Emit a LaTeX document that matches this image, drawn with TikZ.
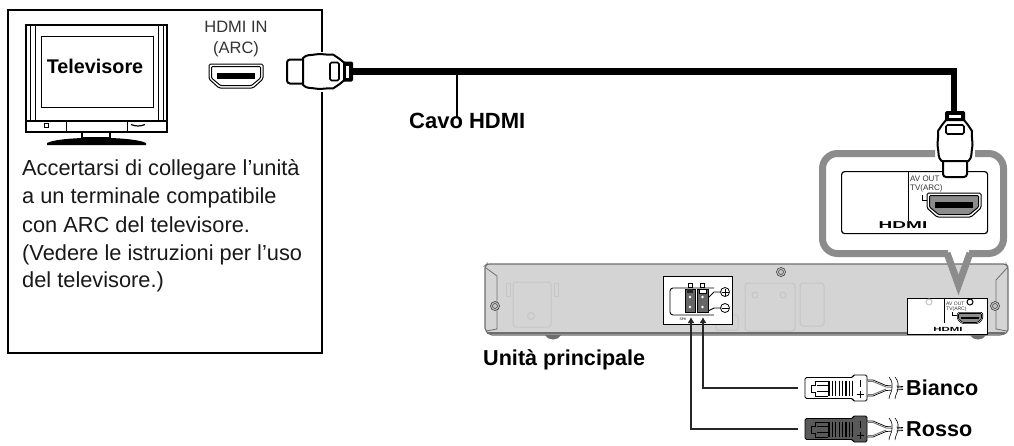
\documentclass[tikz,border=0pt]{standalone}
\usepackage{fontspec}
\setmainfont{Liberation Sans}
\usetikzlibrary{arrows.meta}
\definecolor{devgray}{HTML}{D4D4D4}
\definecolor{devedge}{HTML}{6E6E6E}
\definecolor{ghost}{HTML}{C6C6C6}
\definecolor{callout}{HTML}{8C8C8C}
\newcommand\partfill{white}
\newcommand\partline{1pt}
\tikzset{
  x=1pt,y=-1pt,
  partfill/.store in=\partfill,
  partline/.store in=\partline,
  body/.style={font=\fontsize{21.8}{26}\selectfont,inner sep=0pt,anchor=base west,text=black!90},
  title/.style={font=\fontsize{21.6}{26}\selectfont\bfseries,inner sep=0pt,anchor=base west},
  small/.style={font=\fontsize{16.5}{20}\selectfont,inner sep=0pt,anchor=base,text=black!80},
  tiny/.style={font=\fontsize{8}{9}\selectfont,inner sep=0pt,anchor=base west,text=black!80},
  wire/.style={line width=2.2pt,draw=black!85},
  ghostline/.style={draw=ghost,line width=1pt},
  hdmiplug/.pic={
    \fill[black,rounded corners=1.5pt] (50,-10) rectangle (66,10);
    \fill[white] (59,-6) rectangle (62,6);
    \draw[fill=white,line width=2pt,rounded corners=3pt] (0,-12) -- (18,-12) -- (18,12) -- (0,12) -- cycle;
    \draw[fill=white,line width=2pt,line join=round] (16,-13.5)
      .. controls (20,-17.5) and (24,-16) .. (28,-17)
      .. controls (34,-18.5) and (40,-16) .. (46,-17) -- (52,-13) -- (57,-9) -- (57,9) -- (52,13) -- (46,17)
      .. controls (40,16) and (34,18.5) .. (28,17)
      .. controls (24,16) and (20,17.5) .. (16,13.5) -- cycle;
    \draw[line width=1.7pt,rounded corners=1.5pt] (43,-9) rectangle (52,9);
  },
  hdmiport/.pic={
    \draw[fill=white,line width=\partline,rounded corners=1.5pt] (-27,-12) -- (27,-12) -- (27,3) -- (17,12) -- (-17,12) -- (-27,3) -- cycle;
    \draw[fill=\partfill,draw=black,line width=\partline,rounded corners=1pt] (-24.5,-9.5) -- (24.5,-9.5) -- (24.5,2) -- (15.5,9.5) -- (-15.5,9.5) -- (-24.5,2) -- cycle;
    \fill[black] (-19,-3) rectangle (19,3);
  },
  spkplug/.pic={
    \draw[fill=\partfill,line width=.9pt,rounded corners=1.5pt] (0,-10.5) -- (48,-10.5) -- (48,-13) -- (62,-13) -- (62,13) -- (48,13) -- (48,10.5) -- (0,10.5) -- cycle;
    \draw[line width=1pt] (23,-7) -- (10,-7) -- (10,-3) -- (6,-3) -- (6,4) -- (10,4) -- (10,8) -- (23,8);
    \draw[line width=.8pt] (12,-3) -- (23,-3) (12,3) -- (23,3);
    \foreach \i in {0,...,7}{\draw[line width=1.3pt] (24+\i*3.4,-7.5) -- (24+\i*3.4,8);}
    \draw[line width=1pt] (55,-8) -- (55,-1) (51.5,6) -- (58.5,6) (55,2.5) -- (55,9.5);
    \draw[line width=.7pt] (62,-8) -- (68,-8) -- (81,-2.5) -- (98,-1.5);
    \draw[line width=.7pt] (62,8) -- (68,8) -- (81,2.5) -- (98,1.5);
    \draw[draw=black!55,line width=.9pt] (63,-6.5) -- (68,-6.5) -- (81,-1) -- (98,0);
    \draw[draw=black!55,line width=.9pt] (63,6.5) -- (68,6.5) -- (81,1);
    \fill[white] (84,-11) -- (89,-11) -- (92,0) -- (89,11) -- (84,11) -- (87,0) -- cycle;
    \draw[line width=.6pt] (84,-11) .. controls (88,-6) and (87,-3) .. (87,0) .. controls (87,4) and (84,7) .. (84,11);
    \draw[line width=.6pt] (90,-11) .. controls (94,-6) and (93,-3) .. (93,0) .. controls (93,4) and (90,7) .. (90,11);
  },
}
\begin{document}
\begin{tikzpicture}
\useasboundingbox (0,0) rectangle (1014,445);
\fill[white] (0,0) rectangle (1014,445);

% left frame
\node[draw,line width=2.4pt,minimum width=314pt,minimum height=343pt,inner sep=0pt,anchor=north west] (frame) at (7,9) {};
\fill[white] (318,52) rectangle (323,92);

% television
\draw[line width=2pt] (26,25) rectangle (167,132);
\draw[line width=.7pt] (30,26) -- (30,121) (35,26) -- (35,121) (158,26) -- (158,121) (163,26) -- (163,121);
\node[draw,line width=.9pt,minimum width=112pt,minimum height=71pt,inner sep=0pt,anchor=north west] (screen) at (41,36) {};
\draw[line width=1.1pt] (26,121) -- (167,121);
\draw[line width=.7pt] (66,121) -- (66,131) (127,121) -- (127,131);
\draw[line width=.8pt] (44.5,123.5) rectangle (48,127);
\draw[line width=1.2pt] (131,124.5) .. controls (136,126.5) and (140,126.5) .. (145,124.5);
\draw[line width=1.2pt] (82,132) -- (82,138) (110,132) -- (110,138) (82,138) -- (110,138);
\fill[black] (47,143) .. controls (60,136) and (133,136) .. (146,143) -- (146,145) -- (47,145) -- cycle;
\node[title,font=\fontsize{19.8}{24}\selectfont\bfseries,anchor=base] (tv) at (95,73) {Televisore};

\node[small] (in1) at (236,32) {HDMI IN};
\node[small] (in2) at (236,53) {(ARC)};
\pic (tvport) at (236,76) {hdmiport};

\node[body] (t1) at (22,175) {Accertarsi di collegare l’unità};
\node[body] (t2) at (22,203) {a un terminale compatibile};
\node[body] (t3) at (22,232) {con ARC del televisore.};
\node[body] (t4) at (22,260) {(Vedere le istruzioni per l’uso};
\node[body] (t5) at (22,287) {del televisore.)};

% main unit
\path[fill=devgray,draw=devedge,line width=1.1pt,rounded corners=2pt]
 (485,266) -- (487,264) -- (1006,264) -- (1008,267) -- (1008,332) -- (1002,335) -- (490,335) -- (485,330) -- cycle;
\draw[draw=devedge,line width=.8pt] (486,268) -- (497,276) -- (497,329) -- (486,331);
\draw[draw=devedge,line width=.8pt] (1007,268) -- (996,280) -- (996,329) -- (1007,331);
\draw[draw=devedge,line width=1.4pt] (487,333) -- (1005,333);
\fill[devedge] (545,335) .. controls (548,341) and (558,341) .. (561,335) -- cycle;
\fill[devedge] (970,335) .. controls (973,341) and (983,341) .. (986,335) -- cycle;
% faint details
\draw[ghostline,rounded corners=3pt] (513,282) rectangle (551,327);
\draw[ghostline] (506,283) rectangle (510,296) (554,283) rectangle (558,296);
\draw[ghostline] (531,316) circle (3.5);
\draw[ghostline,rounded corners=3pt] (745,283) rectangle (795,331);
\draw[ghostline] (755,295) circle (3) (783,295) circle (3);
\draw[ghostline,rounded corners=3pt] (800,283) rectangle (824,326);
\draw[ghostline,rounded corners=1pt] (716,315) rectangle (738,330);
% screws
\foreach \p in {(495,306),(781,272),(995,306)}{
  \draw[fill=ghost,draw=black!70,line width=.7pt] \p circle (4.5);
  \draw[draw=black!70,line width=.6pt] \p circle (2.5);
}
% speaker terminal panel
\node[draw,fill=white,line width=1.2pt,minimum width=69pt,minimum height=48pt,inner sep=0pt,anchor=north west] (term) at (663,276) {};
\draw[line width=.9pt,rounded corners=3pt] (714,288) -- (670,288) -- (670,315) -- (714,315);
\draw[fill=black!60,line width=.8pt] (685,289) rectangle (695,312);
\draw[fill=black!60,line width=.8pt] (697,289) rectangle (708,312);
\fill[black!85] (687,289) rectangle (693,293);
\draw[fill=white,line width=.6pt] (699,289) rectangle (706,293);
\fill[white] (690,297) circle (1.3) (690,307) circle (1.3) (702.5,297) circle (1.3) (702.5,307) circle (1.3);
\draw[line width=.6pt] (688,283) rectangle (692,287) (700,283) rectangle (704,287);
\draw[line width=.9pt] (708,298) -- (714,292) -- (720,292);
\draw[line width=.9pt] (708,311) -- (714,308) -- (720,308);
\node[draw,circle,line width=.8pt,minimum size=9pt,inner sep=0pt] (plus) at (725,292) {};
\draw[line width=.7pt] (721.5,292) -- (728.5,292) (725,288.5) -- (725,295.5);
\node[draw,circle,line width=.8pt,minimum size=9pt,inner sep=0pt] (minus) at (725,308) {};
\draw[line width=.7pt] (721.5,308) -- (728.5,308);
\node[font=\fontsize{3.5}{4}\selectfont,inner sep=0pt] (spk) at (683,319) {SPK};
% HDMI panel on the unit
\node[draw,fill=white,line width=1.2pt,minimum width=80pt,minimum height=36pt,inner sep=0pt,anchor=north west] (hp) at (907,298) {};
\draw[line width=.7pt] (944,298) -- (944,323);
\draw[ghostline] (929,302) circle (3);
\draw[line width=1pt] (970,302) circle (3);
\node[font=\fontsize{5}{5}\selectfont,inner sep=0pt,anchor=base west,text=black!80] (av1) at (946,305) {AV OUT};
\node[font=\fontsize{5}{5}\selectfont,inner sep=0pt,anchor=base west,text=black!80] (av2) at (946,310) {TV(ARC)};
\draw[line width=.6pt] (952,312) -- (952,315) -- (957,315);
\begin{scope}[shift={(970,318)},x={(.47pt,0pt)},y={(0pt,-.47pt)}]
  \pic[partfill=black!45,partline=.6pt] {hdmiport};
\end{scope}
\node[font=\fontsize{6}{6}\selectfont\bfseries,xscale=1.9,inner sep=0pt] (hl) at (948,329) {HDMI};

% callout
\draw[draw=callout,line width=7pt,rounded corners=15pt]
  (935,153.5) -- (822.5,153.5) -- (822.5,253.5) -- (948,253.5);
\draw[draw=callout,line width=7pt,rounded corners=15pt]
  (975,153.5) -- (1003.5,153.5) -- (1003.5,253.5) -- (969,253.5);
\draw[draw=callout,line width=7pt,line join=miter,line cap=butt] (947,253) -- (958.5,285) -- (970,253);
\node[draw,line width=1.2pt,rounded corners=3pt,minimum width=146pt,minimum height=62pt,inner sep=0pt,anchor=north west] (panel) at (841,171) {};
\draw[line width=.7pt] (908,171) -- (908,221);
\node[tiny] (avout) at (910,181) {AV OUT};
\node[tiny] (tvarc) at (910,190) {TV(ARC)};
\draw[line width=.8pt] (922,195) -- (922,200) -- (928,200);
\pic[partfill=black!45] (mainport) at (954,205) {hdmiport};
\node[font=\fontsize{10}{10}\selectfont\bfseries,xscale=1.9,inner sep=0pt] (logo) at (903,225) {HDMI};

% HDMI cable
\coordinate (plugA) at (352,71.5);
\coordinate (plugB) at (954,113);
\coordinate (leaderA) at (457,71.5);
\draw[line width=6.5pt,line join=miter] (plugA) -- (plugA -| plugB) -- (plugB);
\pic at (287,71.5) {hdmiplug};
\begin{scope}[shift={(955,177)},x={(0pt,1pt)},y={(1pt,0pt)}]
  \pic {hdmiplug};
\end{scope}
\node[title,font=\fontsize{22}{26}\selectfont\bfseries] (cavo) at (409,128) {Cavo HDMI};
\coordinate (cavoTop) at (457,118);
\draw[line width=1.6pt] (leaderA) -- (cavoTop);

\node[title] (unita) at (483,365) {Unità principale};

% speaker wires
\pic (pw) at (805,388) {spkplug};
\pic[partfill=black!65] (pr) at (805,429) {spkplug};
\node[title] (bianco) at (906,395) {Bianco};
\node[title] (rosso) at (906,436) {Rosso};
\coordinate (wEnd) at (798,388);
\coordinate (rEnd) at (798,429);
\coordinate (wTop) at (703,317);
\coordinate (rTop) at (691,317);
\draw[wire,-{Latex[length=6pt,width=7pt]}] (wEnd) -- (wEnd -| wTop) -- (wTop);
\draw[wire,-{Latex[length=6pt,width=7pt]}] (rEnd) -- (rEnd -| rTop) -- (rTop);
\end{tikzpicture}
\end{document}
